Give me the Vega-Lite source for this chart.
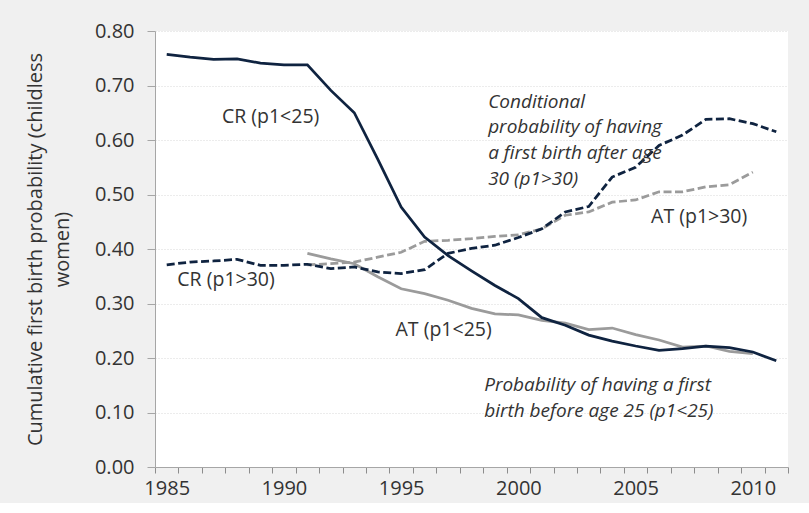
{
  "$schema": "https://vega.github.io/schema/vega-lite/v6.json",
  "autosize": {"type": "none"},
  "width": 633,
  "height": 436,
  "padding": {"left": 155, "top": 31, "right": 21, "bottom": 36},
  "background": "#f0f0f0",
  "config": {
    "font": "Open Sans",
    "view": {"stroke": null, "fill": "white"},
    "text": {"font": "Open Sans", "fontSize": 19.5, "color": "#333333", "lineBreak": "\n"}
  },
  "datasets": {
    "lines": [
      {"series": "CR_lt25", "year": 1985, "value": 0.757},
      {"series": "CR_lt25", "year": 1986, "value": 0.752},
      {"series": "CR_lt25", "year": 1987, "value": 0.748},
      {"series": "CR_lt25", "year": 1988, "value": 0.749},
      {"series": "CR_lt25", "year": 1989, "value": 0.741},
      {"series": "CR_lt25", "year": 1990, "value": 0.738},
      {"series": "CR_lt25", "year": 1991, "value": 0.738},
      {"series": "CR_lt25", "year": 1992, "value": 0.691},
      {"series": "CR_lt25", "year": 1993, "value": 0.650},
      {"series": "CR_lt25", "year": 1994, "value": 0.565},
      {"series": "CR_lt25", "year": 1995, "value": 0.477},
      {"series": "CR_lt25", "year": 1996, "value": 0.422},
      {"series": "CR_lt25", "year": 1997, "value": 0.388},
      {"series": "CR_lt25", "year": 1998, "value": 0.360},
      {"series": "CR_lt25", "year": 1999, "value": 0.333},
      {"series": "CR_lt25", "year": 2000, "value": 0.309},
      {"series": "CR_lt25", "year": 2001, "value": 0.274},
      {"series": "CR_lt25", "year": 2002, "value": 0.260},
      {"series": "CR_lt25", "year": 2003, "value": 0.242},
      {"series": "CR_lt25", "year": 2004, "value": 0.231},
      {"series": "CR_lt25", "year": 2005, "value": 0.222},
      {"series": "CR_lt25", "year": 2006, "value": 0.214},
      {"series": "CR_lt25", "year": 2007, "value": 0.217},
      {"series": "CR_lt25", "year": 2008, "value": 0.222},
      {"series": "CR_lt25", "year": 2009, "value": 0.219},
      {"series": "CR_lt25", "year": 2010, "value": 0.211},
      {"series": "CR_lt25", "year": 2011, "value": 0.195},
      {"series": "AT_lt25", "year": 1991, "value": 0.392},
      {"series": "AT_lt25", "year": 1992, "value": 0.382},
      {"series": "AT_lt25", "year": 1993, "value": 0.373},
      {"series": "AT_lt25", "year": 1994, "value": 0.349},
      {"series": "AT_lt25", "year": 1995, "value": 0.327},
      {"series": "AT_lt25", "year": 1996, "value": 0.318},
      {"series": "AT_lt25", "year": 1997, "value": 0.306},
      {"series": "AT_lt25", "year": 1998, "value": 0.291},
      {"series": "AT_lt25", "year": 1999, "value": 0.281},
      {"series": "AT_lt25", "year": 2000, "value": 0.279},
      {"series": "AT_lt25", "year": 2001, "value": 0.269},
      {"series": "AT_lt25", "year": 2002, "value": 0.264},
      {"series": "AT_lt25", "year": 2003, "value": 0.252},
      {"series": "AT_lt25", "year": 2004, "value": 0.255},
      {"series": "AT_lt25", "year": 2005, "value": 0.243},
      {"series": "AT_lt25", "year": 2006, "value": 0.233},
      {"series": "AT_lt25", "year": 2007, "value": 0.220},
      {"series": "AT_lt25", "year": 2008, "value": 0.222},
      {"series": "AT_lt25", "year": 2009, "value": 0.212},
      {"series": "AT_lt25", "year": 2010, "value": 0.208},
      {"series": "CR_gt30", "year": 1985, "value": 0.371},
      {"series": "CR_gt30", "year": 1986, "value": 0.376},
      {"series": "CR_gt30", "year": 1987, "value": 0.378},
      {"series": "CR_gt30", "year": 1988, "value": 0.381},
      {"series": "CR_gt30", "year": 1989, "value": 0.370},
      {"series": "CR_gt30", "year": 1990, "value": 0.370},
      {"series": "CR_gt30", "year": 1991, "value": 0.372},
      {"series": "CR_gt30", "year": 1992, "value": 0.364},
      {"series": "CR_gt30", "year": 1993, "value": 0.367},
      {"series": "CR_gt30", "year": 1994, "value": 0.358},
      {"series": "CR_gt30", "year": 1995, "value": 0.355},
      {"series": "CR_gt30", "year": 1996, "value": 0.362},
      {"series": "CR_gt30", "year": 1997, "value": 0.392},
      {"series": "CR_gt30", "year": 1998, "value": 0.401},
      {"series": "CR_gt30", "year": 1999, "value": 0.407},
      {"series": "CR_gt30", "year": 2000, "value": 0.421},
      {"series": "CR_gt30", "year": 2001, "value": 0.437},
      {"series": "CR_gt30", "year": 2002, "value": 0.468},
      {"series": "CR_gt30", "year": 2003, "value": 0.478},
      {"series": "CR_gt30", "year": 2004, "value": 0.532},
      {"series": "CR_gt30", "year": 2005, "value": 0.550},
      {"series": "CR_gt30", "year": 2006, "value": 0.590},
      {"series": "CR_gt30", "year": 2007, "value": 0.609},
      {"series": "CR_gt30", "year": 2008, "value": 0.638},
      {"series": "CR_gt30", "year": 2009, "value": 0.639},
      {"series": "CR_gt30", "year": 2010, "value": 0.630},
      {"series": "CR_gt30", "year": 2011, "value": 0.615},
      {"series": "AT_gt30", "year": 1991, "value": 0.371},
      {"series": "AT_gt30", "year": 1992, "value": 0.373},
      {"series": "AT_gt30", "year": 1993, "value": 0.376},
      {"series": "AT_gt30", "year": 1994, "value": 0.385},
      {"series": "AT_gt30", "year": 1995, "value": 0.394},
      {"series": "AT_gt30", "year": 1996, "value": 0.414},
      {"series": "AT_gt30", "year": 1997, "value": 0.416},
      {"series": "AT_gt30", "year": 1998, "value": 0.419},
      {"series": "AT_gt30", "year": 1999, "value": 0.423},
      {"series": "AT_gt30", "year": 2000, "value": 0.426},
      {"series": "AT_gt30", "year": 2001, "value": 0.437},
      {"series": "AT_gt30", "year": 2002, "value": 0.462},
      {"series": "AT_gt30", "year": 2003, "value": 0.468},
      {"series": "AT_gt30", "year": 2004, "value": 0.486},
      {"series": "AT_gt30", "year": 2005, "value": 0.490},
      {"series": "AT_gt30", "year": 2006, "value": 0.505},
      {"series": "AT_gt30", "year": 2007, "value": 0.505},
      {"series": "AT_gt30", "year": 2008, "value": 0.514},
      {"series": "AT_gt30", "year": 2009, "value": 0.518},
      {"series": "AT_gt30", "year": 2010, "value": 0.541}
    ],
    "labels": [
      {"year": 1989.43, "value": 0.642, "label": "CR (p1<25)"},
      {"year": 1987.53, "value": 0.343, "label": "CR (p1>30)"},
      {"year": 1996.81, "value": 0.251, "label": "AT (p1<25)"},
      {"year": 2007.71, "value": 0.458, "label": "AT (p1>30)"}
    ],
    "notes": [
      {"year": 1998.71, "value": 0.670, "label": "Conditional\nprobability of having\na first birth after age\n30 (p1>30)"},
      {"year": 1998.54, "value": 0.150, "label": "Probability of having a first\nbirth before age 25 (p1<25)"}
    ]
  },
  "encoding": {
    "x": {
      "field": "year", "type": "quantitative",
      "scale": {"domain": [1984.5, 2011.5], "nice": false, "zero": false},
      "axis": {
        "values": [1984.5, 1985.5, 1986.5, 1987.5, 1988.5, 1989.5, 1990.5, 1991.5, 1992.5, 1993.5, 1994.5, 1995.5, 1996.5, 1997.5, 1998.5, 1999.5, 2000.5, 2001.5, 2002.5, 2003.5, 2004.5, 2005.5, 2006.5, 2007.5, 2008.5, 2009.5, 2010.5, 2011.5],
        "labelExpr": "(datum.value + 0.5) % 5 === 0 && datum.value < 2011 ? format(datum.value + 0.5, 'd') : ''",
        "labelOffset": 11.72,
        "labelOverlap": false,
        "labelBound": false,
        "labelFlush": false,
        "title": null,
        "ticks": true,
        "tickSize": 6,
        "tickWidth": 1,
        "tickColor": "#8c8c8c",
        "tickOpacity": 1,
        "domainColor": "#a6a6a6",
        "grid": false,
        "labelFont": "Open Sans",
        "labelFontSize": 20,
        "labelColor": "#333333",
        "labelPadding": 5
      }
    },
    "y": {
      "field": "value",
      "type": "quantitative",
      "scale": {"domain": [0, 0.8], "nice": false, "zero": false},
      "axis": {
        "values": [0, 0.1, 0.2, 0.3, 0.4, 0.5, 0.6, 0.7, 0.8],
        "format": ".2f",
        "title": ["Cumulative first birth probability  (childless", "women)"],
        "titleFont": "Open Sans",
        "titleFontSize": 20,
        "titleFontWeight": "normal",
        "titleColor": "#333333",
        "titleLineHeight": 27,
        "titleAngle": -90,
        "titleAlign": "center",
        "titleBaseline": "middle",
        "titleX": -120,
        "titleY": 218,
        "labelFont": "Open Sans",
        "labelFontSize": 20,
        "labelColor": "#333333",
        "labelPadding": 13,
        "tickSize": 8,
        "tickColor": "#a6a6a6",
        "domainColor": "#a6a6a6",
        "grid": true,
        "gridColor": "#d9d9d9",
        "gridDash": [1, 2]
      }
    }
  },
  "layer": [
    {
      "data": {"name": "lines"},
      "transform": [{"filter": "datum.series === 'AT_lt25'"}],
      "mark": {"type": "line", "color": "#9b9b9b", "strokeWidth": 2.75}
    },
    {
      "data": {"name": "lines"},
      "transform": [{"filter": "datum.series === 'AT_gt30'"}],
      "mark": {"type": "line", "color": "#9b9b9b", "strokeWidth": 2.75, "strokeDash": [8, 3.5]}
    },
    {
      "data": {"name": "lines"},
      "transform": [{"filter": "datum.series === 'CR_gt30'"}],
      "mark": {"type": "line", "color": "#0f2340", "strokeWidth": 2.75, "strokeDash": [8, 3.5]}
    },
    {
      "data": {"name": "lines"},
      "transform": [{"filter": "datum.series === 'CR_lt25'"}],
      "mark": {"type": "line", "color": "#0f2340", "strokeWidth": 2.75}
    },
    {
      "data": {"name": "labels"},
      "mark": {"type": "text", "align": "center", "baseline": "middle"},
      "encoding": {
        "text": {"field": "label", "type": "nominal"}
      }
    },
    {
      "data": {"name": "notes"},
      "mark": {"type": "text", "align": "left", "baseline": "middle", "fontStyle": "italic", "fontSize": 19, "lineHeight": 25.6},
      "encoding": {
        "text": {"field": "label", "type": "nominal"}
      }
    }
  ]
}
